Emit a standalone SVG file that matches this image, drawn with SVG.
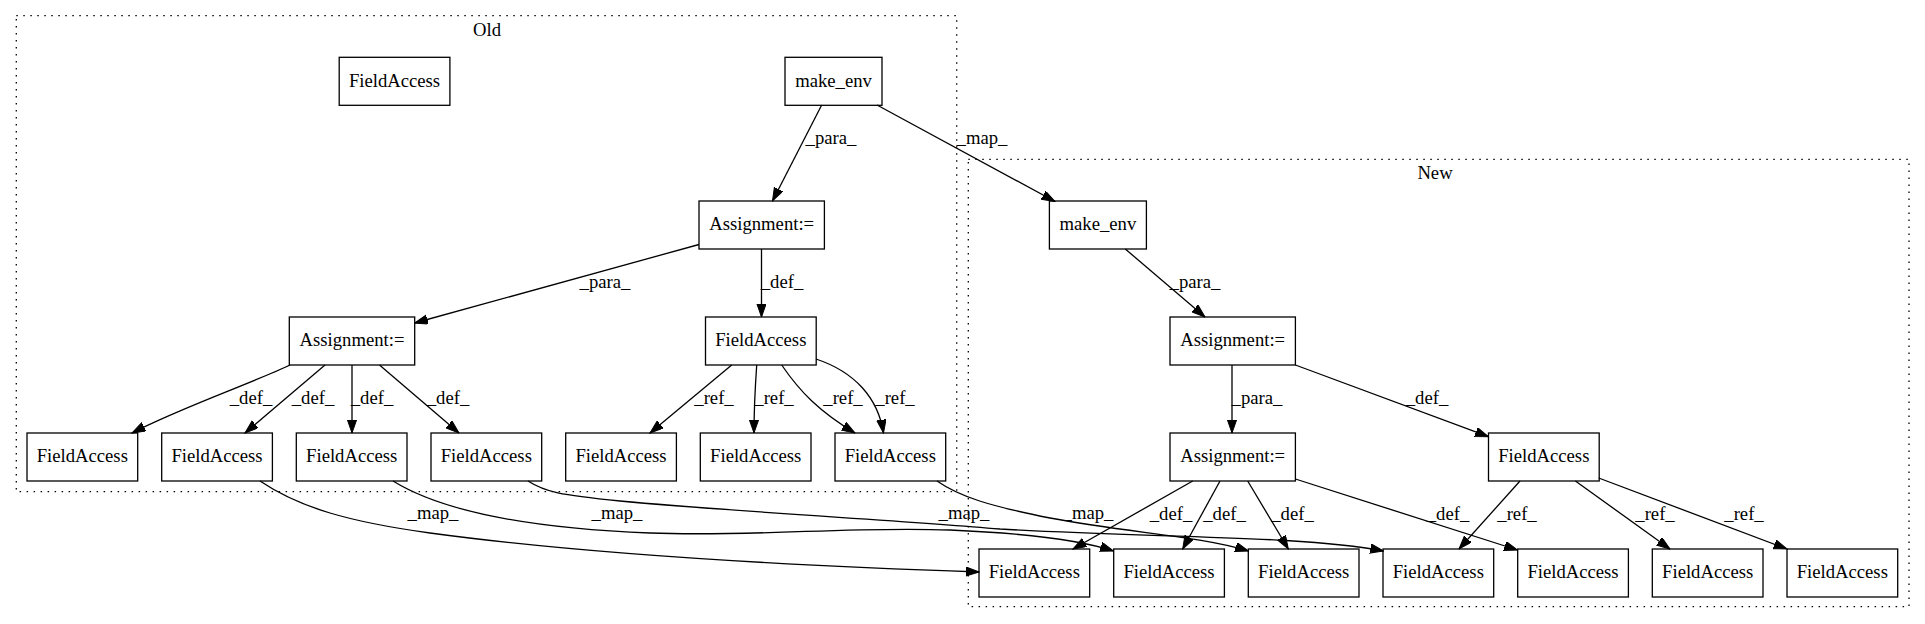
<svg xmlns="http://www.w3.org/2000/svg" width="1925" height="624" viewBox="0 0 1925 624">
<style>
.node rect{fill:none;stroke:#000;stroke-width:1.3}
.node text,.lbl,.cl text{font-family:"Liberation Serif","Times New Roman",serif;font-size:18.67px;fill:#000;text-anchor:middle}
.cl rect{fill:none;stroke:#000;stroke-width:1.3;stroke-dasharray:1.5,5.5}
.edges path{fill:none;stroke:#000;stroke-width:1.3;marker-end:url(#ah)}
</style>
<defs>
<marker id="ah" markerUnits="userSpaceOnUse" viewBox="0 0 14 10" markerWidth="14" markerHeight="10" refX="13.3" refY="4.67" orient="auto">
<path d="M0,0 L13.3,4.67 L0,9.33 z" fill="#000" stroke="#000" stroke-width="1"/>
</marker>
</defs>
<rect x="0" y="0" width="1925" height="624" fill="#fff"/>
<g class="cl" id="cluster_old">
<rect x="16.3" y="15.7" width="940.4" height="476"/>
<text x="487" y="36">Old</text>
</g>
<g class="cl" id="cluster_new">
<rect x="968.3" y="159.3" width="940.7" height="447.4"/>
<text x="1435" y="179">New</text>
</g>
<g id="o_fa0" class="node"><rect x="339.2" y="57.3" width="110.7" height="48"/><text x="394.5" y="86.5">FieldAccess</text></g>
<g id="o_make_env" class="node"><rect x="785" y="57.3" width="97" height="48"/><text x="833.5" y="86.5">make_env</text></g>
<g id="o_assign1" class="node"><rect x="699" y="201" width="125.4" height="48"/><text x="761.7" y="230">Assignment:=</text></g>
<g id="o_assign2" class="node"><rect x="289.3" y="317" width="125.4" height="48"/><text x="352" y="346">Assignment:=</text></g>
<g id="o_fap" class="node"><rect x="705.5" y="317" width="110.7" height="48"/><text x="760.8" y="346">FieldAccess</text></g>
<g id="o_fa1" class="node"><rect x="27" y="433" width="110.7" height="48"/><text x="82.3" y="462">FieldAccess</text></g>
<g id="o_fa2" class="node"><rect x="161.7" y="433" width="110.7" height="48"/><text x="217" y="462">FieldAccess</text></g>
<g id="o_fa3" class="node"><rect x="296.3" y="433" width="110.7" height="48"/><text x="351.7" y="462">FieldAccess</text></g>
<g id="o_fa4" class="node"><rect x="431" y="433" width="110.7" height="48"/><text x="486.3" y="462">FieldAccess</text></g>
<g id="o_fa5" class="node"><rect x="565.7" y="433" width="110.7" height="48"/><text x="621" y="462">FieldAccess</text></g>
<g id="o_fa6" class="node"><rect x="700.3" y="433" width="110.7" height="48"/><text x="755.7" y="462">FieldAccess</text></g>
<g id="o_fa7" class="node"><rect x="835" y="433" width="110.7" height="48"/><text x="890.3" y="462">FieldAccess</text></g>
<g id="n_make_env" class="node"><rect x="1049.4" y="201" width="97" height="48"/><text x="1097.9" y="230">make_env</text></g>
<g id="n_assign1" class="node"><rect x="1170" y="317" width="125.4" height="48"/><text x="1232.7" y="346">Assignment:=</text></g>
<g id="n_assign2" class="node"><rect x="1170" y="433" width="125.4" height="48"/><text x="1232.7" y="462">Assignment:=</text></g>
<g id="n_fap" class="node"><rect x="1488.5" y="433" width="110.7" height="48"/><text x="1543.8" y="462">FieldAccess</text></g>
<g id="n_fa1" class="node"><rect x="979" y="549" width="110.7" height="48"/><text x="1034.3" y="578">FieldAccess</text></g>
<g id="n_fa2" class="node"><rect x="1113.7" y="549" width="110.7" height="48"/><text x="1169" y="578">FieldAccess</text></g>
<g id="n_fa3" class="node"><rect x="1248.3" y="549" width="110.7" height="48"/><text x="1303.7" y="578">FieldAccess</text></g>
<g id="n_fa4" class="node"><rect x="1383" y="549" width="110.7" height="48"/><text x="1438.3" y="578">FieldAccess</text></g>
<g id="n_fa5" class="node"><rect x="1517.7" y="549" width="110.7" height="48"/><text x="1573" y="578">FieldAccess</text></g>
<g id="n_fa6" class="node"><rect x="1652.3" y="549" width="110.7" height="48"/><text x="1707.7" y="578">FieldAccess</text></g>
<g id="n_fa7" class="node"><rect x="1787" y="549" width="110.7" height="48"/><text x="1842.3" y="578">FieldAccess</text></g>
<g class="edges" id="edges">
<path d="M821.7,105 L772.5,201"/>
<path d="M877,105 L1055,201.5"/>
<path d="M699,244.5 L414.5,323"/>
<path d="M761.5,249 L761.5,317"/>
<path d="M290,365 C250,384 180,408 132,433"/>
<path d="M325,365 L245,433"/>
<path d="M352,365 L352,433"/>
<path d="M379.5,365 L459,433"/>
<path d="M731.7,365 L650,433"/>
<path d="M756.7,365 C755,390 754,410 754,433"/>
<path d="M781.7,365 C800,392 820,412 855,433"/>
<path d="M816,359 C855,372 878,398 883.5,433"/>
<path d="M260,481 C300,508 350,522 430,533 C600,556 800,566 979,572"/>
<path d="M393,481 C440,510 520,528 650,533 C760,537 850,526 950,530 C1020,533 1080,540 1113.5,551"/>
<path d="M528,481 C545,492 560,495 620,501 C750,513 900,520 1000,529 C1150,538 1300,535 1383.5,551"/>
<path d="M937,481 C960,497 990,506 1050,518 C1130,533 1200,536 1248.5,551"/>
<path d="M1125.3,249 L1205,317"/>
<path d="M1232,365 L1232,433"/>
<path d="M1295.4,365 L1488.5,436.7"/>
<path d="M1192.7,481 L1073,549"/>
<path d="M1220,481 L1182.7,549"/>
<path d="M1247.7,481 L1288.3,549"/>
<path d="M1295.4,479 L1517.5,550"/>
<path d="M1520,481 L1459,549"/>
<path d="M1575.4,481 L1670,549"/>
<path d="M1598.7,478 L1787,549"/>
</g>
<g id="edge_labels">
<text class="lbl" x="831" y="144">_para_</text>
<text class="lbl" x="982" y="144">_map_</text>
<text class="lbl" x="605" y="288">_para_</text>
<text class="lbl" x="782" y="288">_def_</text>
<text class="lbl" x="251" y="404">_def_</text>
<text class="lbl" x="313" y="404">_def_</text>
<text class="lbl" x="372" y="404">_def_</text>
<text class="lbl" x="448" y="404">_def_</text>
<text class="lbl" x="714" y="404">_ref_</text>
<text class="lbl" x="774" y="404">_ref_</text>
<text class="lbl" x="843" y="404">_ref_</text>
<text class="lbl" x="895" y="404">_ref_</text>
<text class="lbl" x="433" y="519">_map_</text>
<text class="lbl" x="617" y="519">_map_</text>
<text class="lbl" x="964" y="519">_map_</text>
<text class="lbl" x="1088" y="519">_map_</text>
<text class="lbl" x="1195" y="288">_para_</text>
<text class="lbl" x="1257" y="404">_para_</text>
<text class="lbl" x="1427" y="404">_def_</text>
<text class="lbl" x="1171" y="520">_def_</text>
<text class="lbl" x="1224.5" y="520">_def_</text>
<text class="lbl" x="1292.5" y="520">_def_</text>
<text class="lbl" x="1448" y="520">_def_</text>
<text class="lbl" x="1517" y="520">_ref_</text>
<text class="lbl" x="1655" y="520">_ref_</text>
<text class="lbl" x="1744" y="520">_ref_</text>
</g>
</svg>
